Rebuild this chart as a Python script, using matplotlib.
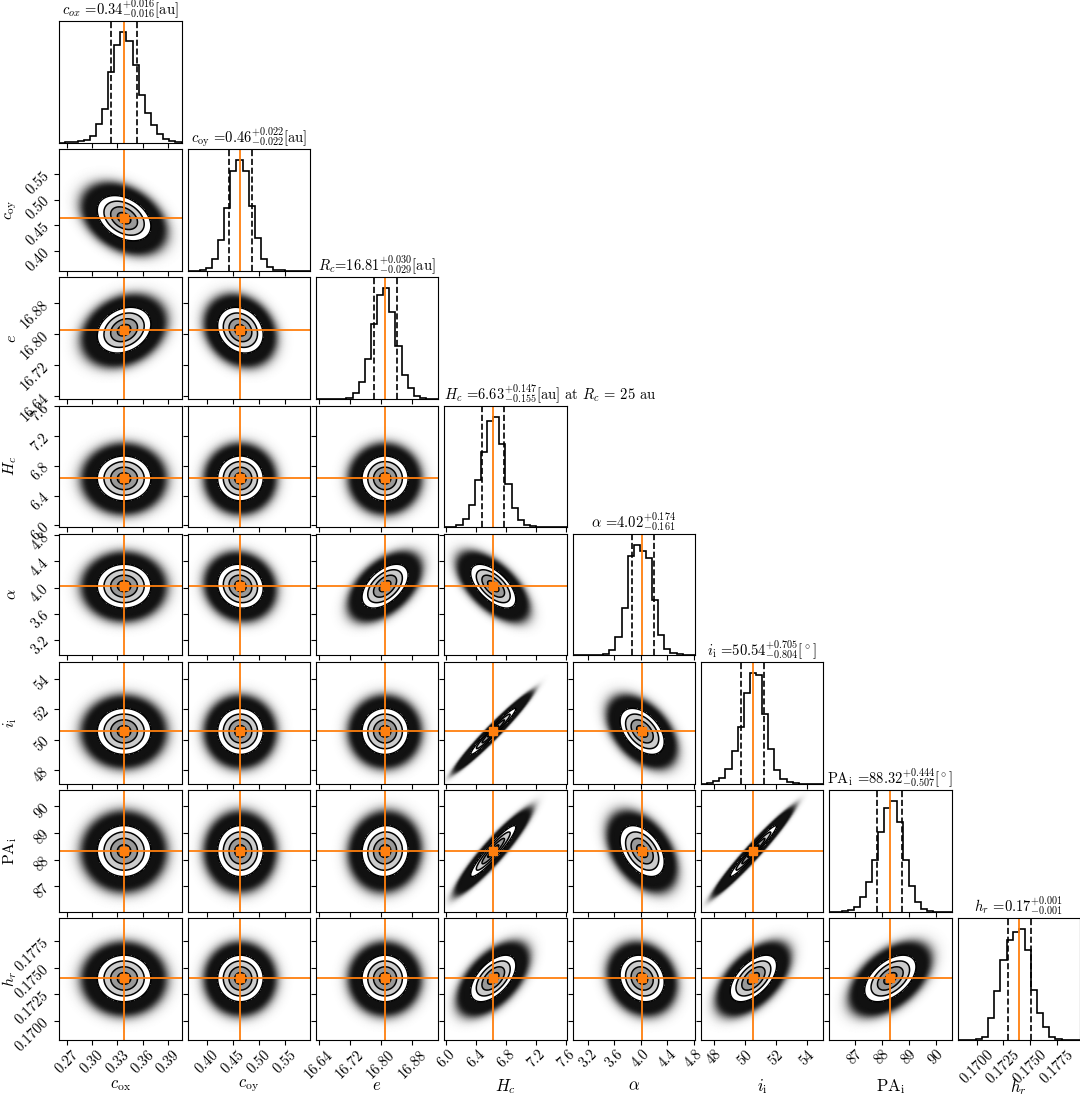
import numpy as np
import matplotlib
matplotlib.use("Agg")
import matplotlib.pyplot as plt
from matplotlib.colors import LinearSegmentedColormap

plt.rcParams["font.family"] = "serif"
plt.rcParams["font.serif"] = ["cmr10"]
plt.rcParams["mathtext.fontset"] = "cm"
plt.rcParams["axes.unicode_minus"] = False
plt.rcParams["axes.formatter.use_mathtext"] = True

# parameter names
axis_labels = [r"$c_{\rm ox}$", r"$c_{\rm oy}$", r"$e$", r"$H_c$", r"$\alpha$",
               r"$i_{\rm i}$", r"${\rm PA}_{\rm i}$", r"$h_r$"]
title_names = [r"$c_{ox}$ ", r"$c_{\rm oy}$ ", r"$R_c$", r"$H_c$ ", r"$\alpha$ ",
               r"$i_{\rm i}$ ", r"${\rm PA}_{\rm i}$ ", r"$h_r$ "]
title_units = ["[au]", "[au]", "[au]", r"[au] at $R_c$ = 25 au", "",
               r"[$^\circ$]", r"[$^\circ$]", ""]

# medians and 16/84 percentile offsets
medians = [0.338, 0.464, 16.81, 6.63, 4.02, 50.54, 88.32, 0.1740]
err_hi = [0.016, 0.022, 0.030, 0.147, 0.174, 0.705, 0.444, 0.0011]
err_lo = [0.016, 0.022, 0.029, 0.155, 0.161, 0.804, 0.507, 0.0011]

# plotted ranges
range_lo = [0.2606, 0.362, 16.633, 5.975, 2.965, 47.13, 86.06, 0.1682]
range_hi = [0.4065, 0.598, 16.946, 7.61, 4.82, 55.08, 90.59, 0.17967]

ticks = [[0.27, 0.30, 0.33, 0.36, 0.39],
         [0.40, 0.45, 0.50, 0.55],
         [16.64, 16.72, 16.80, 16.88],
         [6.0, 6.4, 6.8, 7.2, 7.6],
         [3.2, 3.6, 4.0, 4.4, 4.8],
         [48, 50, 52, 54],
         [87, 88, 89, 90],
         [0.1700, 0.1725, 0.1750, 0.1775]]
tick_labels = [["0.27", "0.30", "0.33", "0.36", "0.39"],
               ["0.40", "0.45", "0.50", "0.55"],
               ["16.64", "16.72", "16.80", "16.88"],
               ["6.0", "6.4", "6.8", "7.2", "7.6"],
               ["3.2", "3.6", "4.0", "4.4", "4.8"],
               ["48", "50", "52", "54"],
               ["87", "88", "89", "90"],
               ["0.1700", "0.1725", "0.1750", "0.1775"]]

# 1D histogram heights (20 bins across the range, peak = 100)
hist_counts = [
    [0, 0.2, 0.5, 1, 2, 6, 17, 30, 64, 88, 100, 92, 70, 43, 27, 16, 7.5, 3, 1, 0.3],
    [0, 0, 0.6, 2.4, 11, 28, 57, 90, 100, 90, 59, 30, 11, 3, 0.6, 0.2, 0, 0, 0, 0],
    [0, 0, 0, 0, 0.3, 1, 5, 15, 36, 68, 94, 100, 79, 48, 22, 10, 3, 1, 0.3, 0],
    [0, 0.5, 2, 7, 20, 43, 68, 96, 100, 75, 39, 17, 6, 2, 0.6, 0.2, 0, 0, 0, 0],
    [0, 0, 0, 0, 0.3, 1.5, 5, 17, 43, 90, 100, 94, 88, 50, 18, 6, 2, 1, 0.3, 0],
    [0, 0.5, 2, 5, 13, 29, 51, 82, 100, 98, 63, 31, 12, 4.5, 1.5, 0.5, 0, 0, 0, 0],
    [0, 0, 0.5, 1.5, 4.5, 13.5, 27, 47, 72, 94, 100, 81, 47, 23, 9, 2.4, 0.6, 0, 0, 0],
    [0, 0, 0, 1, 3, 20, 44, 72, 90, 98, 100, 81, 45, 24, 11.5, 3, 1, 0.3, 0, 0],
]

# pairwise correlations (lower triangle, row parameter vs column parameter)
corr = [
    [],
    [-0.35],
    [0.25, -0.2],
    [0.0, 0.0, 0.0],
    [0.0, -0.1, 0.5, -0.6],
    [0.0, 0.0, 0.0, 0.97, -0.45],
    [0.0, 0.0, 0.05, 0.93, -0.42, 0.97],
    [0.0, 0.0, 0.0, 0.55, -0.15, 0.55, 0.5],
]

orange = "#ff7f0e"
n = len(medians)
W, H = 1080, 1098
x0, y0, px, py, sw, sh = 59.2, 21.0, 128.35, 128.2, 122.3, 121.5

fig = plt.figure(figsize=(W / 100, H / 100), dpi=100)
cloud_cmap = LinearSegmentedColormap.from_list("cloud", ["white", "#111111"])
sig = [(a + b) / 2 for a, b in zip(err_hi, err_lo)]

for i in range(n):
    for j in range(i + 1):
        ax = fig.add_axes([(x0 + j * px) / W, 1 - (y0 + i * py + sh) / H, sw / W, sh / H])
        ax.set_xlim(range_lo[j], range_hi[j])
        ax.tick_params(pad=2)
        if i == j:
            edges = np.linspace(range_lo[i], range_hi[i], len(hist_counts[i]) + 1)
            ax.stairs(hist_counts[i], edges, color="k", lw=1.2)
            ax.set_ylim(0, 1.1 * max(hist_counts[i]))
            ax.axvline(medians[i] - err_lo[i], color="k", ls="--", lw=1.2)
            ax.axvline(medians[i] + err_hi[i], color="k", ls="--", lw=1.2)
            ax.axvline(medians[i], color=orange, lw=1.3)
            ax.set_yticks([])
            title = (title_names[i] + "={:.2f}".format(medians[i])
                     + r"$^{{+{:.3f}}}_{{-{:.3f}}}$".format(err_hi[i], err_lo[i])
                     + title_units[i])
            ax.set_title(title, fontsize=10.5, pad=-2, loc="left" if i == 3 else "center")
        else:
            xs = np.linspace(range_lo[j], range_hi[j], 200)
            ys = np.linspace(range_lo[i], range_hi[i], 200)
            X, Y = np.meshgrid(xs, ys)
            dx = (X - medians[j]) / sig[j]
            dy = (Y - medians[i]) / sig[i]
            rho = corr[i][j]
            r2 = (dx ** 2 - 2 * rho * dx * dy + dy ** 2) / (1 - rho ** 2)
            r = np.sqrt(r2)
            A = 150 / np.sqrt(1 - rho ** 2)
            cloud = 1 - np.exp(-A * np.exp(-r2 / 2))
            ax.pcolormesh(X, Y, cloud, cmap=cloud_cmap, vmin=0, vmax=1,
                          shading="gouraud", rasterized=True)
            ax.contourf(X, Y, r, levels=[0, 0.5, 1, 1.5, 2],
                        colors=["#666666", "#999999", "#cccccc", "white"])
            ax.contour(X, Y, r, levels=[0.5, 1, 1.5, 2], colors="k", linewidths=1.1)
            ax.set_ylim(range_lo[i], range_hi[i])
            ax.axvline(medians[j], color=orange, lw=1.3)
            ax.axhline(medians[i], color=orange, lw=1.3)
            ax.plot(medians[j], medians[i], "s", color=orange, ms=5.5)
            ax.set_yticks(ticks[i])
            if j == 0:
                ax.set_yticklabels(tick_labels[i], rotation=45, fontsize=10.5)
                ax.set_ylabel(axis_labels[i], fontsize=11.5)
                ax.yaxis.set_label_coords(-0.33, 0.5)
            else:
                ax.set_yticklabels([])
        ax.set_xticks(ticks[j])
        if i == n - 1:
            ax.set_xticklabels(tick_labels[j], rotation=45, fontsize=10.5)
            ax.set_xlabel(axis_labels[j], fontsize=12)
            ax.xaxis.set_label_coords(0.5, -0.31)
        else:
            ax.set_xticklabels([])

fig.savefig("out.png", dpi=100)
